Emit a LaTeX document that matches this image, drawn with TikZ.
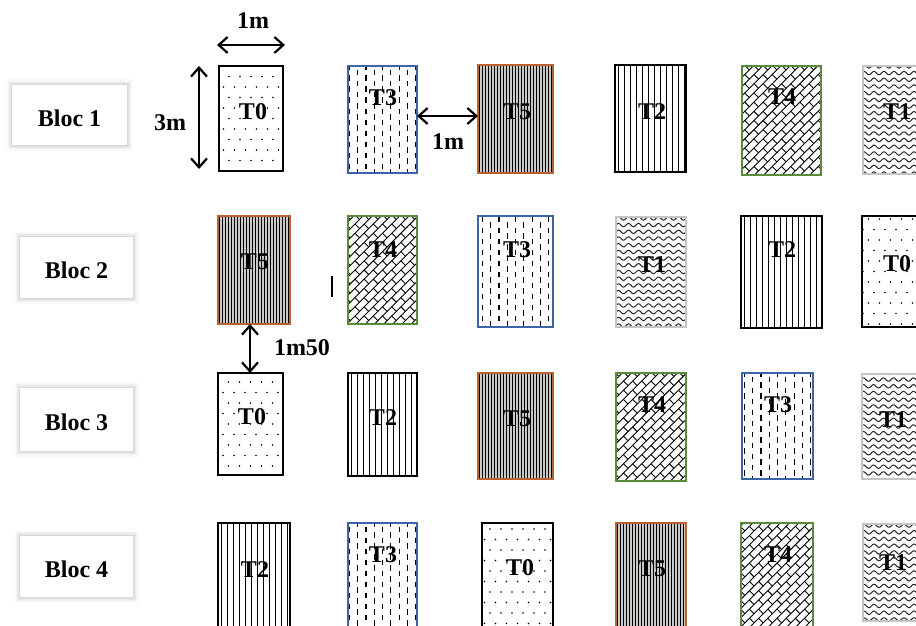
\documentclass[tikz,border=0pt]{standalone}
\usepackage{fontspec}
\setmainfont{Liberation Serif}
\usetikzlibrary{arrows.meta}
\definecolor{cblue}{HTML}{3F64A6}
\definecolor{corange}{HTML}{BB6330}
\definecolor{cgreen}{HTML}{5A8A3A}
\definecolor{cgray}{HTML}{C4C4C4}
\newcommand\plotbox[9]{%
  \pgfmathsetmacro\pbx{(#3+#5)/2}\pgfmathsetmacro\pby{(#4+#6)/2}%
  \pgfmathsetmacro\pbw{#5-#3}\pgfmathsetmacro\pbh{#6-#4}%
  \pgfmathsetmacro\pbl{-\pbw/2}\pgfmathsetmacro\pbt{-\pbh/2}%
  \node[#2, minimum width=\pbw pt, minimum height=\pbh pt] (#1) at (\pbx,\pby) {};%
  \node[plotlabel] (#1t) at (#7,#8) {#9};}
\tikzset{
  plotbase/.style={rectangle, inner sep=0pt, outer sep=0pt},
  plotlabel/.style={font=\fontsize{24}{26}\selectfont\bfseries, inner sep=0pt},
  dimlabel/.style={font=\fontsize{24}{26}\selectfont\bfseries, inner sep=0pt},
  blocbox/.style={rectangle, fill=white, inner sep=0pt, outer sep=0pt,
    font=\fontsize{24}{26}\selectfont\bfseries, text height=22pt, text depth=0pt,
    preaction={draw=black, draw opacity=0.02, line width=11pt},
    preaction={draw=black, draw opacity=0.03, line width=8pt},
    preaction={draw=black, draw opacity=0.035, line width=5.5pt},
    preaction={draw=black, draw opacity=0.04, line width=3pt},
    preaction={draw=black, draw opacity=0.03, line width=1.2pt}},
  dimarrow/.style={line width=2.2pt,
    {Straight Barb[length=9pt,width=16pt,line width=2.2pt]}-{Straight Barb[length=9pt,width=16pt,line width=2.2pt]}},
  pT0/.style={plotbase, draw=black, line width=2.4pt, fill=white,
    path picture={\begin{scope}[shift={(path picture bounding box.center)}]
      \foreach \j in {-6,...,6}{\foreach \i in {-5,...,5}{
        \fill[black] ({\i*11+mod(abs(\j),2)*5.5},{\j*10.5}) circle[radius=0.85pt];}}
    \end{scope}}},
  pT3/.style={plotbase, draw=cblue, line width=2pt, fill=white,
    path picture={\begin{scope}[shift={(path picture bounding box.center)}]
      \foreach \i in {-6,...,6}{\pgfmathsetmacro\ph{mod(abs(\i),2)*5.5}
        \draw[black, line width=1.2pt, dash pattern=on 5.5pt off 5.5pt, dash phase=\ph pt]
          ({\i*8.3},-66) -- ({\i*8.3},66);}
    \end{scope}}},
  pT5/.style={plotbase, draw=corange, line width=2pt, fill=gray!42,
    path picture={
      \foreach \k in {0,...,28}{\draw[black, line width=1.4pt]
        ({\pbl+3*\k+1.7},{\pbt-3}) -- ({\pbl+3*\k+1.7},{-\pbt+3});}}},
  pT2/.style={plotbase, draw=black, line width=2.8pt, fill=white,
    path picture={
      \foreach \k in {0,...,15}{\draw[black, line width=1.2pt]
        ({\pbl+6*\k+3.6},{\pbt-3}) -- ({\pbl+6*\k+3.6},{-\pbt+3});}}},
  pT4/.style={plotbase, draw=cgreen, line width=2.4pt, fill=white,
    path picture={\begin{scope}[shift={(path picture bounding box.center)},
        x={(0.7071pt,0.7071pt)}, y={(0.7071pt,-0.7071pt)}]
      \foreach \j in {-13,...,13}{
        \draw[black, line width=0.9pt] (-90,{\j*6.5}) -- (90,{\j*6.5});
        \foreach \i in {-7,...,7}{
          \draw[black, line width=0.9pt] ({\i*13+mod(abs(\j),2)*6.5},{\j*6.5}) -- ++(0,6.5);}}
    \end{scope}}},
  pT1/.style={plotbase, draw=cgray, line width=1.5pt, fill=white,
    path picture={\begin{scope}[shift={(path picture bounding box.center)}]
      \foreach \yy in {-10,...,10}{
        \draw[line width=1pt, black!85] plot[domain=-46:46, samples=93, smooth]
          (\x, {\yy*6.7+1.7*sin(\x*36)});}
    \end{scope}}},
}
\begin{document}
\begin{tikzpicture}[x=1pt,y=-1pt]
\useasboundingbox (0,0) rectangle (916,626);
% bloc labels
\node[blocbox, minimum width=115pt, minimum height=60pt] (b1) at (69.5,115) {Bloc 1};
\node[blocbox, minimum width=113pt, minimum height=61pt] (b2) at (76.5,267.5) {Bloc 2};
\node[blocbox, minimum width=113pt, minimum height=63pt] (b3) at (76.5,419.5) {Bloc 3};
\node[blocbox, minimum width=113pt, minimum height=61pt] (b4) at (76.5,566.5) {Bloc 4};
% row 1
\plotbox{r1c1}{pT0}{219}{66}{283}{171}{253}{112}{T0}
\plotbox{r1c2}{pT3}{348}{66}{417}{173}{383}{98}{T3}
\plotbox{r1c3}{pT5}{478}{65}{553}{173}{517}{112}{T5}
\plotbox{r1c4}{pT2}{615}{65}{686}{172}{652}{112}{T2}
\plotbox{r1c5}{pT4}{742}{66}{821}{175}{782}{97}{T4}
\plotbox{r1c6}{pT1}{863}{66}{930}{174}{897}{112}{T1}
% row 2
\plotbox{r2c1}{pT5}{218}{216}{290}{324}{255}{262}{T5}
\plotbox{r2c2}{pT4}{348}{216}{417}{324}{383}{250}{T4}
\plotbox{r2c3}{pT3}{478}{216}{553}{327}{517}{250}{T3}
\plotbox{r2c4}{pT1}{616}{217}{686}{327}{652}{265}{T1}
\plotbox{r2c5}{pT2}{741}{216}{822}{328}{782}{250}{T2}
\plotbox{r2c6}{pT0}{862}{216}{930}{327}{897}{264}{T0}
% row 3
\plotbox{r3c1}{pT0}{218}{373}{283}{475}{252}{417}{T0}
\plotbox{r3c2}{pT2}{348}{373}{417}{476}{383}{418}{T2}
\plotbox{r3c3}{pT5}{478}{373}{553}{479}{517}{419}{T5}
\plotbox{r3c4}{pT4}{616}{373}{686}{481}{652}{405}{T4}
\plotbox{r3c5}{pT3}{742}{373}{813}{479}{778}{405}{T3}
\plotbox{r3c6}{pT1}{862}{374}{930}{479}{893}{420}{T1}
% row 4
\plotbox{r4c1}{pT2}{218}{523}{290}{640}{255}{570}{T2}
\plotbox{r4c2}{pT3}{348}{523}{417}{640}{383}{555}{T3}
\plotbox{r4c3}{pT0}{482}{523}{553}{640}{520}{568}{T0}
\plotbox{r4c4}{pT5}{616}{523}{686}{640}{652}{569}{T5}
\plotbox{r4c5}{pT4}{741}{523}{813}{640}{778}{555}{T4}
\plotbox{r4c6}{pT1}{863}{524}{930}{621}{893}{563}{T1}
% dimensions
\coordinate (wL) at (217,45);
\coordinate (wR) at (285,45);
\draw[dimarrow] (wL) -- (wR);
\node[dimlabel] (w1m) at (253,21) {1m};
\coordinate (hT) at (199,66);
\coordinate (hB) at (199,169);
\draw[dimarrow] (hT) -- (hB);
\node[dimlabel] (h3m) at (170,123) {3m};
\coordinate (gA) at ([yshift=3.5pt]r1c2.east);
\draw[dimarrow] (gA) -- (gA -| r1c3.west);
\node[dimlabel] (g1m) at (448,142) {1m};
\coordinate (vA) at ([xshift=-4pt]r2c1.south);
\draw[dimarrow] (vA) -- (vA |- r3c1.north);
\node[dimlabel] (g150) at (302,348) {1m50};
% small mark
\coordinate (barT) at (332,276);
\coordinate (barB) at (332,297);
\draw[line width=2pt] (barT) -- (barB);
\end{tikzpicture}
\end{document}
